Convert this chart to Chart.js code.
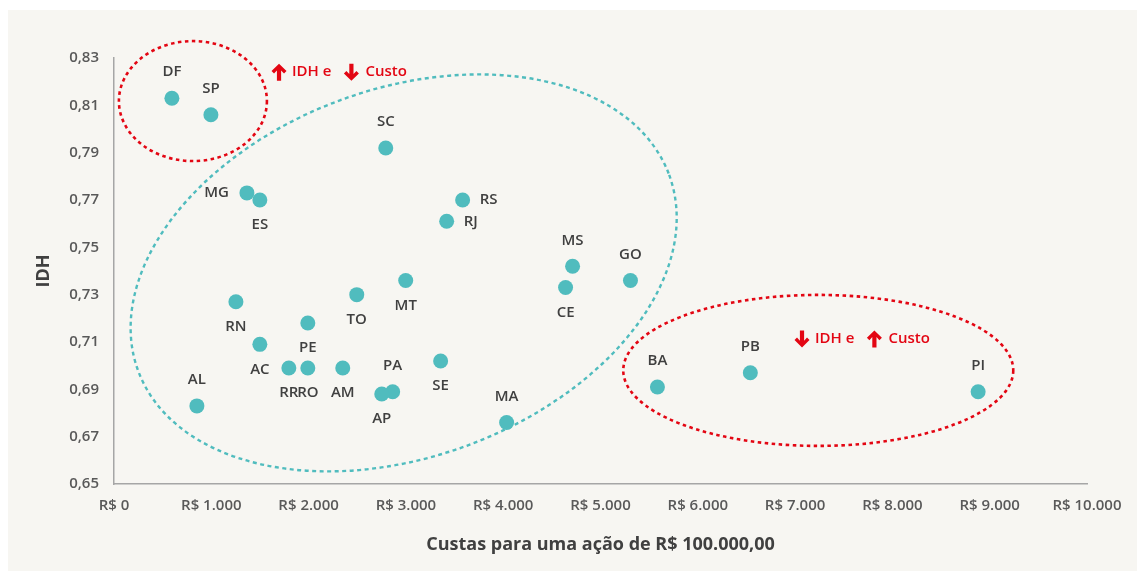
<!DOCTYPE html>
<html>
<head>
<meta charset="utf-8">
<script src="https://cdn.jsdelivr.net/npm/chart.js@4/dist/chart.umd.min.js"></script>
<style>
  html, body { margin: 0; padding: 0; background: #ffffff; }
  canvas { display: block; }
</style>
</head>
<body>
<canvas id="c" width="1137" height="571"></canvas>
<script>
// ---- data ----
const states = ['DF','SP','SC','MG','ES','RS','RJ','MS','GO','MT','CE','TO','RN','PE','AC','RR','RO','AM','SE','PA','AP','MA','AL','BA','PB','PI'];
const costs  = [595, 996, 2793, 1366, 1499, 3583, 3419, 4713, 5308, 2998, 4641, 2495, 1253, 1992, 1499, 1797, 1992, 2351, 3357, 2864, 2752, 4035, 852, 5585, 6540, 8881];
const idh    = [0.813, 0.806, 0.792, 0.773, 0.770, 0.770, 0.761, 0.742, 0.736, 0.736, 0.733, 0.730, 0.727, 0.718, 0.709, 0.699, 0.699, 0.699, 0.702, 0.689, 0.688, 0.676, 0.683, 0.691, 0.697, 0.689];
const xTickLabels = ['R$ 0','R$ 1.000','R$ 2.000','R$ 3.000','R$ 4.000','R$ 5.000','R$ 6.000','R$ 7.000','R$ 8.000','R$ 9.000','R$ 10.000'];
const yTickLabels = ['0,65','0,67','0,69','0,71','0,73','0,75','0,77','0,79','0,81','0,83'];
const xTitle = 'Custas para uma ação de R$ 100.000,00';
const yTitle = 'IDH';

// ---- label placement (style) ----
const labelSide = {
  DF:'above', SP:'above', SC:'above', MS:'above', GO:'above', AL:'above', PA:'above', MA:'above', BA:'above', PB:'above', PI:'above',
  ES:'below', CE:'below', TO:'below', MT:'below', RN:'below', PE:'below', AC:'below', RR:'below', RO:'below', AM:'below', AP:'below', SE:'below',
  MG:'left', RS:'right', RJ:'right'
};

// ---- annotations (centers in data units, radii in px) ----
const redEllipses = [
  {cx: 811, cy: 0.8118, rx: 74, ry: 60},
  {cx: 7238, cy: 0.698, rx: 195, ry: 75.5}
];
const tealEllipse = {cx: 2977, cy: 0.7392, rx: 283, ry: 184, rotDeg: -20.25};
const notes = [
  {x: 1696, y: 0.8240, first: 'up',   second: 'down'},
  {x: 7071, y: 0.7113, first: 'down', second: 'up'}
];

const TEAL = '#50bcbe';
const RED = '#e30613';
const TEXT = '#404040';
const BG = '#f7f6f2';

function drawArrow(ctx, x, y, dir) {
  const s = dir === 'up' ? 1 : -1;
  const pts = [[0,-8.5],[7.5,-1.2],[5,1.3],[2.1,-1.8],[2.1,8.5],[-2.1,8.5],[-2.1,-1.8],[-5,1.3],[-7.5,-1.2]];
  ctx.beginPath();
  pts.forEach((p, i) => {
    const px = x + p[0], py = y + p[1] * s;
    if (i === 0) ctx.moveTo(px, py); else ctx.lineTo(px, py);
  });
  ctx.closePath();
  ctx.fill();
}

const bgPlugin = {
  id: 'bg',
  beforeDraw(chart) {
    const ctx = chart.ctx;
    ctx.save();
    ctx.fillStyle = BG;
    ctx.fillRect(8, 10, chart.width - 8, chart.height - 10);
    ctx.restore();
  }
};

const ellipsePlugin = {
  id: 'ellipses',
  beforeDatasetsDraw(chart) {
    const ctx = chart.ctx, xs = chart.scales.x, ys = chart.scales.y;
    ctx.save();
    ctx.lineWidth = 2.4;
    ctx.setLineDash([4, 3.5]);
    ctx.strokeStyle = TEAL;
    ctx.beginPath();
    ctx.ellipse(xs.getPixelForValue(tealEllipse.cx), ys.getPixelForValue(tealEllipse.cy),
      tealEllipse.rx, tealEllipse.ry, tealEllipse.rotDeg * Math.PI / 180, 0, Math.PI * 2);
    ctx.stroke();
    ctx.strokeStyle = RED;
    ctx.lineWidth = 2.6;
    ctx.setLineDash([3.5, 3.5]);
    redEllipses.forEach(e => {
      ctx.beginPath();
      ctx.ellipse(xs.getPixelForValue(e.cx), ys.getPixelForValue(e.cy), e.rx, e.ry, 0, 0, Math.PI * 2);
      ctx.stroke();
    });
    ctx.restore();
  }
};

const labelPlugin = {
  id: 'labels',
  afterDatasetsDraw(chart) {
    const ctx = chart.ctx, xs = chart.scales.x, ys = chart.scales.y;
    const meta = chart.getDatasetMeta(0);
    ctx.save();
    ctx.font = '600 15px "Open Sans"';
    ctx.fillStyle = TEXT;
    ctx.textBaseline = 'middle';
    meta.data.forEach((pt, i) => {
      const name = states[i];
      const side = labelSide[name] || 'above';
      let x = pt.x, y = pt.y;
      if (side === 'above') { ctx.textAlign = 'center'; y -= 26; }
      else if (side === 'below') { ctx.textAlign = 'center'; y += 25; }
      else if (side === 'left') { ctx.textAlign = 'right'; x -= 18; }
      else { ctx.textAlign = 'left'; x += 17; }
      ctx.fillText(name, x, y);
    });
    // red notes
    ctx.fillStyle = RED;
    ctx.textAlign = 'left';
    ctx.font = '600 15px "Open Sans"';
    notes.forEach(n => {
      let x = xs.getPixelForValue(n.x), y = ys.getPixelForValue(n.y);
      drawArrow(ctx, x, y, n.first);
      let tx = x + 13;
      ctx.fillText('IDH e', tx, y);
      tx += ctx.measureText('IDH e').width + 20;
      drawArrow(ctx, tx, y, n.second);
      ctx.fillText('Custo', tx + 14, y);
    });
    ctx.restore();
  }
};

new Chart(document.getElementById('c'), {
  type: 'scatter',
  data: {
    datasets: [{
      data: costs.map((c, i) => ({x: c, y: idh[i]})),
      backgroundColor: TEAL,
      borderWidth: 0,
      pointRadius: 7.5,
      pointHoverRadius: 7.5
    }]
  },
  options: {
    responsive: false,
    animation: false,
    layout: {padding: {top: 58, right: 50, left: 0, bottom: 0}},
    plugins: {legend: {display: false}, tooltip: {enabled: false}},
    scales: {
      x: {
        type: 'linear', min: 0, max: 10000,
        ticks: {stepSize: 1000, padding: 13, color: '#595959', font: {family: 'Open Sans', size: 15, weight: '600'},
          callback: (v, i) => xTickLabels[i]},
        grid: {display: false, drawTicks: false},
        border: {display: true, color: '#a6a6a6', width: 1.5},
        title: {display: true, text: xTitle, color: TEXT, font: {family: 'Open Sans', size: 18, weight: 'bold'}, padding: {top: 0, bottom: 15}},
        afterFit: s => { s.height = 87; }
      },
      y: {
        type: 'linear', min: 0.65, max: 0.83,
        ticks: {stepSize: 0.02, padding: 15, color: '#595959', font: {family: 'Open Sans', size: 15, weight: '600'},
          callback: (v, i) => yTickLabels[i]},
        grid: {display: false, drawTicks: false},
        border: {display: true, color: '#a6a6a6', width: 1.5},
        title: {display: true, text: yTitle, color: TEXT, font: {family: 'Open Sans', size: 18, weight: 'bold'}, padding: {top: 33, bottom: 0}},
        afterFit: s => { s.width = 114; }
      }
    }
  },
  plugins: [bgPlugin, ellipsePlugin, labelPlugin]
});
</script>
</body>
</html>
